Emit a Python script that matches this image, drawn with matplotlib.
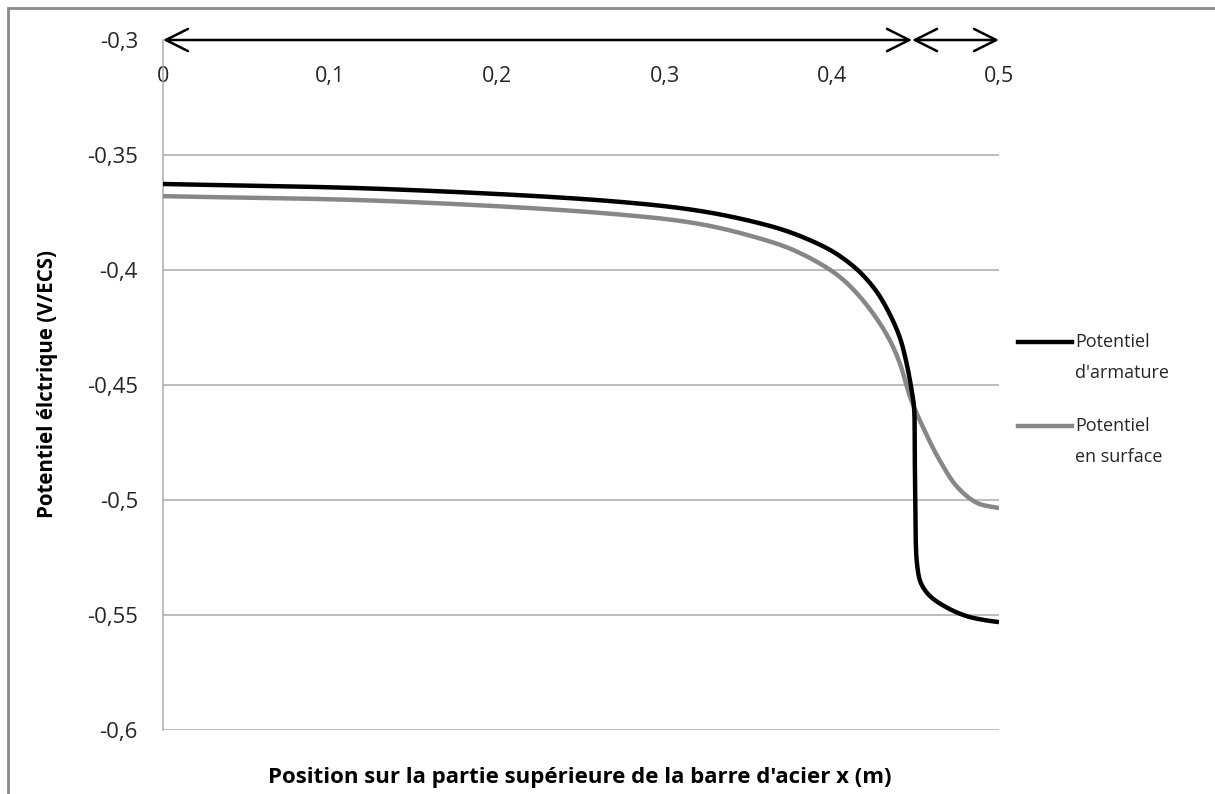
import matplotlib
matplotlib.use("Agg")
import matplotlib.pyplot as plt
from matplotlib.lines import Line2D
from matplotlib.patches import Rectangle
from matplotlib.ticker import FuncFormatter
import numpy as np

# ---- data ----
x_arm = [0.0, 0.133, 0.267, 0.321, 0.357, 0.377, 0.397, 0.4069, 0.4169, 0.4268,
         0.4348, 0.4408, 0.4448, 0.4478, 0.4492, 0.4496, 0.4499, 0.4503, 0.451,
         0.4528, 0.456, 0.4605, 0.4707, 0.4807, 0.4904, 0.5]
y_arm = [-0.3626, -0.3648, -0.3700, -0.3743, -0.3797, -0.3841, -0.3905, -0.3950,
         -0.4010, -0.4094, -0.4194, -0.4296, -0.4408, -0.4525, -0.4600, -0.4800,
         -0.5000, -0.5200, -0.5280, -0.5352, -0.5395, -0.5429, -0.5475, -0.5505,
         -0.5521, -0.5531]

x_surf = [0.0, 0.133, 0.267, 0.321, 0.357, 0.377, 0.397, 0.4069, 0.4169, 0.4268,
          0.4348, 0.4408, 0.4470, 0.4545, 0.4647, 0.475, 0.487, 0.5]
y_surf = [-0.3679, -0.3700, -0.3755, -0.3800, -0.3863, -0.3913, -0.3990, -0.4043,
          -0.4117, -0.4211, -0.4307, -0.4408, -0.4555, -0.4683, -0.4830, -0.4943,
          -0.5013, -0.5035]

x_ticks = [0.0, 0.1, 0.2, 0.3, 0.4, 0.5]
y_ticks = [-0.6, -0.55, -0.5, -0.45, -0.4, -0.35, -0.3]
arrow_segments = [(0.0, 0.448), (0.448, 0.5)]

labels = ["Potentiel\nd'armature", "Potentiel\nen surface"]
colors = ["#000000", "#878787"]

xlabel = "Position sur la partie supérieure de la barre d'acier x (m)"
ylabel = "Potentiel élctrique (V/ECS)"

# ---- smooth curve through the read points (centripetal Catmull-Rom,
#      computed in a space scaled like the screen so the steep drop is smooth) ----
SX, SY = 1672.0, 2300.0

def smooth(xs, ys, n=40):
    P = np.column_stack([np.asarray(xs) * SX, np.asarray(ys) * SY])
    P = np.vstack([2 * P[0] - P[1], P, 2 * P[-1] - P[-2]])
    out = []
    for i in range(1, len(P) - 2):
        p0, p1, p2, p3 = P[i - 1], P[i], P[i + 1], P[i + 2]
        def tj(ti, a, b):
            return ti + max(np.hypot(*(b - a)), 1e-9) ** 0.5
        t0 = 0.0; t1 = tj(t0, p0, p1); t2 = tj(t1, p1, p2); t3 = tj(t2, p2, p3)
        t = np.linspace(t1, t2, n)[:, None]
        A1 = (t1 - t) / (t1 - t0) * p0 + (t - t0) / (t1 - t0) * p1
        A2 = (t2 - t) / (t2 - t1) * p1 + (t - t1) / (t2 - t1) * p2
        A3 = (t3 - t) / (t3 - t2) * p2 + (t - t2) / (t3 - t2) * p3
        B1 = (t2 - t) / (t2 - t0) * A1 + (t - t0) / (t2 - t0) * A2
        B2 = (t3 - t) / (t3 - t1) * A2 + (t - t1) / (t3 - t1) * A3
        C = (t2 - t) / (t2 - t1) * B1 + (t - t1) / (t2 - t1) * B2
        out.append(C)
    C = np.vstack(out)
    return C[:, 0] / SX, C[:, 1] / SY

fmt = lambda v, p: ("%g" % v).replace(".", ",")

fig = plt.figure(figsize=(12.15, 7.94), dpi=100)
fig.patch.set_facecolor("white")
fig.add_artist(Rectangle((8/1215, -0.05), 1.2, 1 - 8/794 + 0.05, transform=fig.transFigure,
                         fill=False, edgecolor="#888888", linewidth=2))

ax = fig.add_axes([163/1215, 1 - 730/794, (999-163)/1215, (730-40)/794])
ax.set_xlim(0, 0.5)
ax.set_ylim(-0.6, -0.3)

for v in y_ticks[:-1]:
    ax.axhline(v, color="#ABABAB", linewidth=1.1, zorder=1)

xa, ya = smooth(x_arm, y_arm)
xs_, ys_ = smooth(x_surf, y_surf)
ax.plot(xs_, ys_, color=colors[1], linewidth=3.2, zorder=3, solid_capstyle="butt")
ax.plot(xa, ya, color=colors[0], linewidth=3.2, zorder=4, solid_capstyle="butt")

for a, b in arrow_segments:
    ax.annotate("", xy=(b, -0.3), xytext=(a, -0.3), xycoords="data",
                arrowprops=dict(arrowstyle="<->,head_length=1.6,head_width=0.8",
                                color="black", lw=1.8, shrinkA=0, shrinkB=0),
                annotation_clip=False, zorder=5)

for s in ["top", "right", "bottom"]:
    ax.spines[s].set_visible(False)
ax.spines["left"].set_color("#ABABAB")
ax.spines["left"].set_linewidth(1.1)

ax.set_xticks(x_ticks)
ax.set_yticks(y_ticks)
ax.xaxis.set_major_formatter(FuncFormatter(fmt))
ax.yaxis.set_major_formatter(FuncFormatter(fmt))
ax.xaxis.tick_top()
ax.tick_params(axis="x", length=0, pad=-34, labelsize=15.5)
ax.tick_params(axis="y", length=0, pad=18, labelsize=16)
for t in ax.get_xticklabels() + ax.get_yticklabels():
    t.set_fontfamily("Open Sans")
    t.set_color("#262626")

fig.text(580/1215, 1 - 778/794, xlabel, ha="center", va="center",
         fontsize=16, fontweight="bold", family="Open Sans")
fig.text(48/1215, 1 - 384/794, ylabel, ha="center", va="center", rotation=90,
         fontsize=14.8, fontweight="bold", family="Open Sans")

# legend
for (ly, lab, col) in [(342, labels[0], colors[0]), (426, labels[1], colors[1])]:
    fig.add_artist(Line2D([1018/1215, 1072/1215], [1 - ly/794, 1 - ly/794],
                          transform=fig.transFigure, color=col, linewidth=3.2))
    fig.text(1075/1215, 1 - (ly - 9)/794, lab, ha="left", va="top",
             fontsize=13, family="Open Sans", color="#262626", linespacing=1.95)

fig.savefig("out.png", dpi=100, facecolor="white")
